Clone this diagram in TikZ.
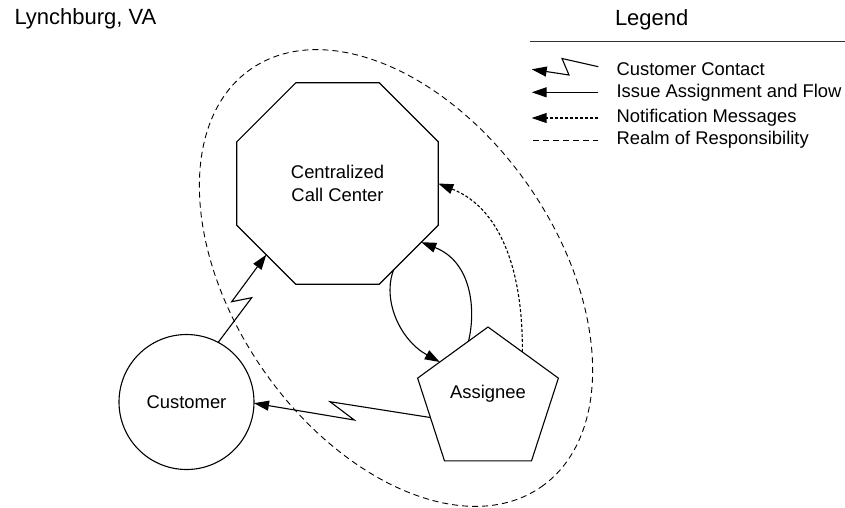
\documentclass[tikz,border=0pt]{standalone}
\usepackage{fontspec}
\setmainfont{Liberation Sans}
\usetikzlibrary{arrows.meta,shapes.geometric}
\begin{document}
\begin{tikzpicture}[x=1pt,y=-1pt,
  shapeline/.style={draw, line width=1.1pt, inner sep=0pt, outer sep=0pt},
  octa/.style={shapeline, regular polygon, regular polygon sides=8, minimum size=218.1pt, align=center},
  penta/.style={shapeline, regular polygon, regular polygon sides=5, minimum size=148pt},
  circ/.style={shapeline, circle, minimum size=135pt},
  body/.style={font=\fontsize{18.4}{22.3}\selectfont},
  title/.style={font=\fontsize{22}{26}\selectfont},
  flow/.style={line width=1.1pt, -{Triangle[length=15pt,width=10pt]}},
  contact/.style={flow, line join=miter},
  notify/.style={flow, dash pattern=on 3pt off 2pt},
  realm/.style={line width=0.9pt, dash pattern=on 6pt off 4pt}
]
\useasboundingbox (0,0) rectangle (845,507);

% realm of responsibility
\draw[realm, rotate around={-55.2:(396,278)}] (396,278) ellipse [x radius=254.4pt, y radius=161.5pt];

% nodes
\node[octa, body] (O) at (337.5,183.5) {Centralized\\Call Center};
\node[penta, body, label={[body, yshift=7pt]center:Assignee}] (P) at (488,401) {};
\node[circ, body] (C) at (186.5,402) {Customer};

% customer contact
\draw[contact] (C.62) -- (251.7,297.7) -- (231.7,301.7) -- (O.225.4);
\draw[contact] (P.196.8) -- (330,401.7) -- (354.3,420) -- (C.-1);

% issue assignment and flow
\draw[flow] (O.-57.5) .. controls (382,300) and (400,340) .. (P.141.7);
\draw[flow] (P.108.3) .. controls (476,310) and (472,262) .. (O.-35.3);

% notification
\draw[notify] (P.55.9) .. controls (523,280) and (505,210) .. (O.0);

% titles
\node[title, anchor=west] (city) at (11,18.5) {Lynchburg, VA};
\node[title] (leg) at (651.7,20) {Legend};
\coordinate (ruleA) at (530,41.7);
\coordinate (ruleB) at (845,41.7);
\draw[line width=1.2pt, black!80] (ruleA) -- (ruleB);

% legend samples
\coordinate (z0) at (598.3,66.7);
\coordinate (z1) at (562,58.5);
\coordinate (z2) at (569,75);
\coordinate (z3) at (531.7,69.3);
\draw[contact] (z0) -- (z1) -- (z2) -- (z3);
\coordinate (i0) at (598.3,92.3);
\coordinate (i1) at (531.7,92.3);
\draw[flow] (i0) -- (i1);
\coordinate (n0) at (598.3,118);
\coordinate (n1) at (531.7,118);
\draw[notify] (n0) -- (n1);
\coordinate (r0) at (533,140);
\coordinate (r1) at (598.3,140);
\draw[realm] (r0) -- (r1);

\node[body, anchor=west] (t1) at (613,69.5) {Customer Contact};
\node[body, anchor=west] (t2) at (613,92.5) {Issue Assignment and Flow};
\node[body, anchor=west] (t3) at (613,118) {Notification Messages};
\node[body, anchor=west] (t4) at (613,140) {Realm of Responsibility};
\end{tikzpicture}
\end{document}
